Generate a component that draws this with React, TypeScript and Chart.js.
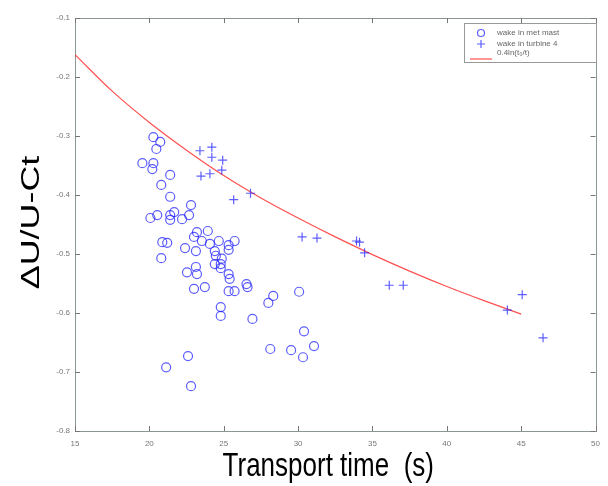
import React, { useEffect, useRef } from 'react';
import { Chart, registerables } from 'chart.js';

Chart.register(...registerables);

// Wake measured in met mast (circles)
const mastTime = [
  20.27, 20.73, 20.47, 19.53, 20.27, 20.2, 21.4, 20.8, 21.4, 22.8,
  20.07, 20.53, 21.4, 21.67, 21.4, 22.2, 22.67, 23.2, 23.93, 23.0,
  23.53, 24.07, 24.67, 25.73, 25.33, 20.87, 21.2, 22.4, 23.13, 20.8,
  24.4, 25.33, 24.47, 24.87, 24.4, 24.8, 24.8, 22.53, 23.13, 23.2,
  25.33, 25.4, 25.33, 25.73, 23.0, 23.73, 26.53, 26.6, 28.33, 28.0,
  30.07, 24.8, 24.8, 26.93, 30.4, 28.13, 29.53, 31.07, 30.33, 22.6,
  21.13, 22.8,
];
const mastDU = [
  -0.302, -0.31, -0.322, -0.346, -0.346, -0.356, -0.366, -0.383, -0.403, -0.417,
  -0.439, -0.434, -0.434, -0.429, -0.442, -0.441, -0.434, -0.463, -0.461, -0.471,
  -0.478, -0.483, -0.478, -0.478, -0.485, -0.48, -0.481, -0.49, -0.495, -0.507,
  -0.495, -0.493, -0.503, -0.508, -0.517, -0.517, -0.524, -0.531, -0.522, -0.534,
  -0.534, -0.542, -0.563, -0.563, -0.559, -0.556, -0.551, -0.556, -0.571, -0.583,
  -0.564, -0.59, -0.605, -0.61, -0.631, -0.661, -0.663, -0.656, -0.675, -0.673,
  -0.692, -0.724,
];

// Wake measured in turbine 4 (plus signs)
const turbTime = [
  24.2, 23.4, 24.2, 24.93, 24.87, 23.47, 24.07, 26.8, 25.67, 30.27,
  31.27, 33.93, 34.13, 34.47, 36.13, 37.07, 45.07, 44.07, 46.47,
];
const turbDU = [
  -0.319, -0.325, -0.336, -0.341, -0.358, -0.368, -0.364, -0.397, -0.408, -0.471,
  -0.473, -0.478, -0.48, -0.498, -0.553, -0.553, -0.569, -0.595, -0.642,
];

// Fitted curve 0.4ln(t0/t)
const fitTime = [15, 17.5, 20, 22.5, 25, 27.5, 30, 32.5, 35, 37.5, 40, 42.5, 45];
const fitDU = [-0.162, -0.224, -0.277, -0.324, -0.367, -0.405, -0.439, -0.471, -0.501, -0.529, -0.555, -0.579, -0.602];

const xTicks = [15, 20, 25, 30, 35, 40, 45, 50];
const yTicks = [-0.8, -0.7, -0.6, -0.5, -0.4, -0.3, -0.2, -0.1];

const seriesLabels = ['wake in met mast', 'wake in turbine 4', '0.4ln(t\u2080/t)'];
const xTitle = 'Transport time  (s)';
const yTitle = '\u0394U/U-Ct';

const FONT = "'Liberation Sans', Arial, sans-serif";
const BLUE = 'rgba(30,30,255,0.72)';
const RED = 'rgba(255,50,50,0.85)';

const framePlugin = {
  id: 'frame',
  beforeDatasetsDraw(chart: any) {
    const { ctx, chartArea: a, scales } = chart;
    ctx.save();
    ctx.strokeStyle = '#8c9696';
    ctx.lineWidth = 1;
    ctx.strokeRect(Math.round(a.left) + 0.5, Math.round(a.top) + 0.5, Math.round(a.right - a.left), Math.round(a.bottom - a.top));
    ctx.strokeStyle = '#777';
    const tl = 5;
    scales.x.ticks.forEach((t: any) => {
      const px = Math.round(scales.x.getPixelForValue(t.value)) + 0.5;
      ctx.beginPath();
      ctx.moveTo(px, a.bottom);
      ctx.lineTo(px, a.bottom - tl);
      ctx.moveTo(px, a.top);
      ctx.lineTo(px, a.top + tl);
      ctx.stroke();
    });
    scales.y.ticks.forEach((t: any) => {
      const py = Math.round(scales.y.getPixelForValue(t.value)) + 0.5;
      ctx.beginPath();
      ctx.moveTo(a.left, py);
      ctx.lineTo(a.left + tl, py);
      ctx.moveTo(a.right, py);
      ctx.lineTo(a.right - tl, py);
      ctx.stroke();
    });
    ctx.restore();
  },
};

const titlePlugin = {
  id: 'titles',
  afterDraw(chart: any) {
    const { ctx, chartArea: a } = chart;
    ctx.save();
    ctx.fillStyle = '#000';
    ctx.font = `26px ${FONT}`;
    ctx.textAlign = 'center';
    ctx.textBaseline = 'middle';
    ctx.translate((a.left + a.right) / 2 - 7, 467);
    ctx.scale(1, 1.3);
    ctx.fillText(xTitle, 0, 0);
    ctx.restore();

    ctx.save();
    ctx.fillStyle = '#000';
    ctx.font = `26px ${FONT}`;
    ctx.textAlign = 'center';
    ctx.textBaseline = 'middle';
    ctx.translate(32, (a.top + a.bottom) / 2 - 2);
    ctx.rotate(-Math.PI / 2);
    ctx.scale(1.38, 1);
    ctx.fillText(yTitle, 0, 0);
    ctx.restore();
  },
};

const legendPlugin = {
  id: 'boxLegend',
  afterDraw(chart: any) {
    const { ctx } = chart;
    const ds = chart.data.datasets;
    const x0 = 464, y0 = 23, w = 132, h = 39;
    ctx.save();
    ctx.fillStyle = '#fff';
    ctx.fillRect(x0, y0, w, h);
    ctx.strokeStyle = '#999';
    ctx.lineWidth = 1;
    ctx.strokeRect(x0 + 0.5, y0 + 0.5, w, h);
    ctx.font = `8px ${FONT}`;
    ctx.textBaseline = 'middle';
    ctx.textAlign = 'left';
    const rows = [33, 44, 53];
    ds.forEach((d: any, i: number) => {
      const y = rows[i];
      const mx = 481;
      ctx.strokeStyle = d.borderColor;
      ctx.lineWidth = 1.2;
      if (i === 0) {
        ctx.beginPath();
        ctx.arc(mx, y, 3.5, 0, Math.PI * 2);
        ctx.stroke();
      } else if (i === 1) {
        ctx.beginPath();
        ctx.moveTo(mx - 4, y); ctx.lineTo(mx + 4, y);
        ctx.moveTo(mx, y - 4); ctx.lineTo(mx, y + 4);
        ctx.stroke();
      } else {
        ctx.beginPath();
        ctx.moveTo(470, y + 6); ctx.lineTo(492, y + 6);
        ctx.stroke();
      }
      ctx.fillStyle = '#666';
      ctx.fillText(d.label, 497, y);
    });
    ctx.restore();
  },
};

export default function App() {
  const ref = useRef<HTMLCanvasElement | null>(null);

  useEffect(() => {
    if (!ref.current) return;
    const chart = new Chart(ref.current, {
      type: 'scatter',
      data: {
        datasets: [
          {
            label: seriesLabels[0],
            data: mastTime.map((t, i) => ({ x: t, y: mastDU[i] })),
            pointStyle: 'circle',
            pointRadius: 4.5,
            borderColor: BLUE,
            backgroundColor: 'rgba(0,0,0,0)',
            borderWidth: 1.2,
          },
          {
            label: seriesLabels[1],
            data: turbTime.map((t, i) => ({ x: t, y: turbDU[i] })),
            pointStyle: 'cross',
            pointRadius: 4.5,
            borderColor: BLUE,
            backgroundColor: BLUE,
            borderWidth: 1.2,
          },
          {
            type: 'line',
            label: seriesLabels[2],
            data: fitTime.map((t, i) => ({ x: t, y: fitDU[i] })),
            borderColor: RED,
            borderWidth: 1.2,
            pointRadius: 0,
            showLine: true,
            fill: false,
            cubicInterpolationMode: 'monotone',
          } as any,
        ],
      },
      options: {
        responsive: false,
        devicePixelRatio: 1,
        animation: false,
        layout: { padding: { left: 0, right: 8, top: 18, bottom: 0 } },
        plugins: { legend: { display: false }, tooltip: { enabled: false } },
        scales: {
          x: {
            type: 'linear',
            min: 15,
            max: 50,
            afterBuildTicks: (s: any) => { s.ticks = xTicks.map((v) => ({ value: v })); },
            afterFit: (s: any) => { s.height = 55; },
            grid: { drawOnChartArea: false, drawTicks: false },
            border: { display: false },
            ticks: {
              padding: 8,
              color: '#777',
              font: { family: FONT, size: 8 },
              callback: (v: any) => String(v),
            },
            title: { display: false, text: xTitle },
          },
          y: {
            type: 'linear',
            min: -0.8,
            max: -0.1,
            afterBuildTicks: (s: any) => { s.ticks = yTicks.map((v) => ({ value: v })); },
            afterFit: (s: any) => { s.width = 75; },
            grid: { drawOnChartArea: false, drawTicks: false },
            border: { display: false },
            ticks: {
              padding: 5,
              color: '#777',
              font: { family: FONT, size: 8 },
              callback: (v: any) => Number(v).toFixed(1),
            },
            title: { display: false, text: yTitle },
          },
        },
      },
      plugins: [framePlugin, titlePlugin, legendPlugin],
    });
    return () => chart.destroy();
  }, []);

  return (
    <div style={{ position: 'fixed', left: 0, top: 0, width: 608, height: 486, background: '#fff' }}>
      <canvas ref={ref} width={608} height={486} style={{ display: 'block' }} />
    </div>
  );
}
